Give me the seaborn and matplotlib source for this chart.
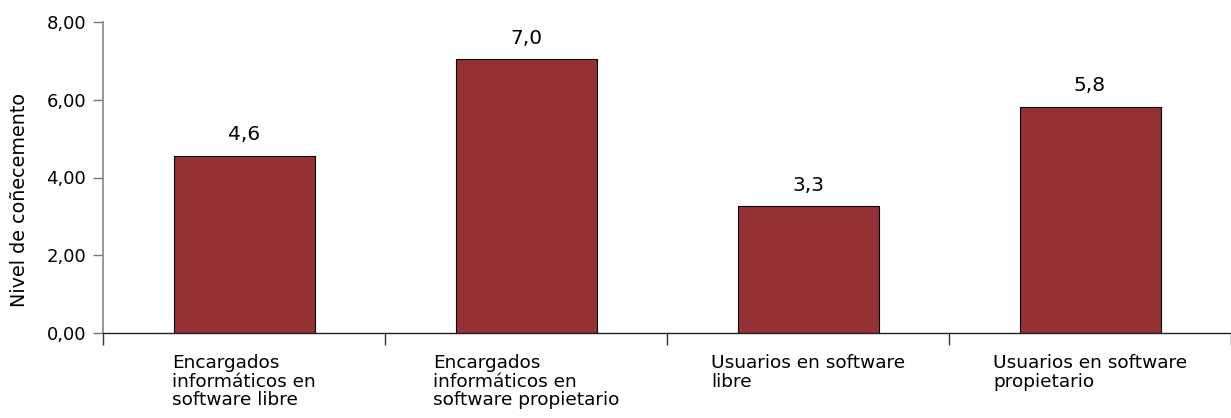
import matplotlib
matplotlib.use("Agg")
import matplotlib.pyplot as plt
import seaborn as sns
import pandas as pd

categories = [
    "Encargados\ninformáticos en\nsoftware libre",
    "Encargados\ninformáticos en\nsoftware propietario",
    "Usuarios en software\nlibre",
    "Usuarios en software\npropietario",
]
values = [4.56, 7.04, 3.26, 5.81]
y_ticks = [0, 2, 4, 6, 8]
y_label = "Nivel de coñecemento"

sns.set_style("ticks")
plt.rcParams['font.family'] = ['DejaVu Sans']
plt.rcParams['text.color'] = 'black'
plt.rcParams['xtick.labelcolor'] = 'black'
plt.rcParams['ytick.labelcolor'] = 'black'

df = pd.DataFrame({"cat": categories, "val": values})

fig = plt.figure(figsize=(12.31, 4.18), dpi=100)
ax = fig.add_axes([103/1231, 85/418, 1 - 103/1231, (333-22)/418])

sns.barplot(data=df, x="cat", y="val", color="#963235", width=0.5,
            edgecolor="black", linewidth=0.8, saturation=1, ax=ax)

for i, v in enumerate(values):
    ax.text(i, v + 0.3, f"{v:.1f}".replace(".", ","), ha="center", va="bottom",
            fontsize=14.5, color="black")

ax.set_ylim(0, 8)
ax.set_xlim(-0.5, 3.5 - 8/284)
ax.set_yticks(y_ticks)
ax.set_yticklabels([f"{t:.2f}".replace(".", ",") for t in y_ticks], fontsize=13)
ax.set_ylabel(y_label, fontsize=13.8, color="black")
ax.yaxis.set_label_coords(-0.066, 0.428)
ax.set_xlabel("")

# category labels at centers, tick marks at boundaries
ax.set_xticks(range(len(categories)))
ax.set_xticklabels(categories, fontsize=13.3, ha="center", multialignment="left",
                   linespacing=1.05)
ax.tick_params(axis="x", which="major", length=0, pad=15)
ax.set_xticks([-0.5, 0.5, 1.5, 2.5, 3.5], minor=True)
ax.tick_params(axis="x", which="minor", length=8.6, width=1, color="#333333", direction="out")
ax.tick_params(axis="y", length=7.2, width=1, color="#777777", pad=5)

for s in ["top", "right"]:
    ax.spines[s].set_visible(False)
ax.spines["left"].set_color("#888888")
ax.spines["left"].set_linewidth(1.2)
ax.spines["bottom"].set_color("#222222")
ax.spines["bottom"].set_linewidth(1)

fig.savefig("out.png", dpi=100)
